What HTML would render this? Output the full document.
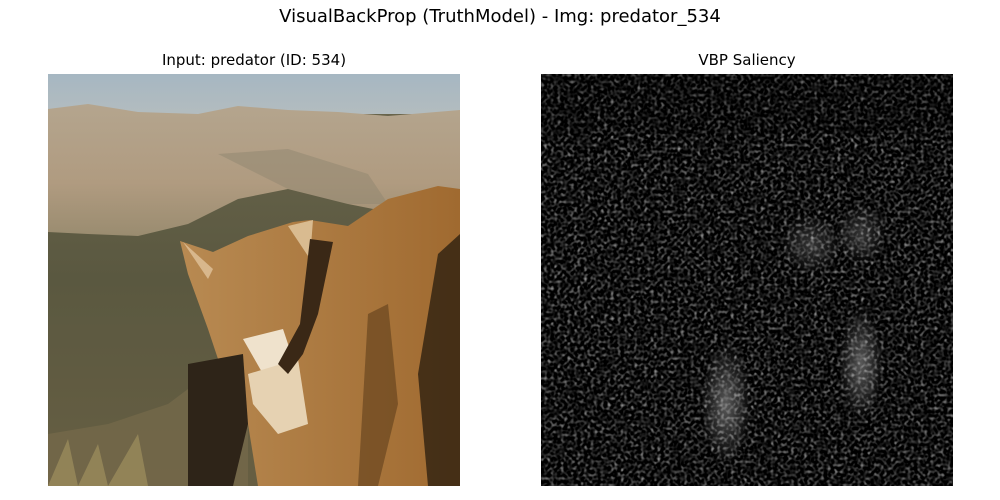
<!DOCTYPE html>
<html><head><meta charset="utf-8"><style>
body{margin:0;background:#fff;}
#fig{position:relative;width:1000px;height:500px;font-family:"DejaVu Sans","Liberation Sans",sans-serif;}
.t{position:absolute;text-align:center;color:#000;}
</style></head><body>
<div id="fig">
<div class="t" style="left:0;width:1000px;top:6px;font-size:18px;">VisualBackProp (TruthModel) - Img: predator_534</div>
<div class="t" style="left:48px;width:412px;top:51px;font-size:15px;">Input: predator (ID: 534)</div>
<div class="t" style="left:541px;width:412px;top:51px;font-size:15px;">VBP Saliency</div>
<svg width="1000" height="500" style="position:absolute;left:0;top:0">
<defs>
<linearGradient id="sky" x1="0" y1="0" x2="0" y2="1"><stop offset="0" stop-color="#a6b7c2"/><stop offset="1" stop-color="#b3bcbf"/></linearGradient>
<linearGradient id="mtn" x1="0" y1="0" x2="0" y2="1"><stop offset="0" stop-color="#b4a58e"/><stop offset="0.6" stop-color="#b09b80"/><stop offset="1" stop-color="#9a8c70"/></linearGradient>
<linearGradient id="field" x1="0" y1="0" x2="0" y2="1"><stop offset="0" stop-color="#6c674e"/><stop offset="0.5" stop-color="#5a5840"/><stop offset="1" stop-color="#6e6244"/></linearGradient>
<linearGradient id="fur" x1="0" y1="0" x2="1" y2="0"><stop offset="0" stop-color="#b88a52"/><stop offset="1" stop-color="#a06a30"/></linearGradient>
<filter id="noise" x="0" y="0" width="100%" height="100%" color-interpolation-filters="sRGB">
<feTurbulence type="fractalNoise" baseFrequency="0.3" numOctaves="1" seed="7"/>
<feColorMatrix type="matrix" values="0.33 0.33 0.33 0 0 0.33 0.33 0.33 0 0 0.33 0.33 0.33 0 0 0 0 0 0 1"/>
<feComponentTransfer><feFuncR type="linear" slope="2.2" intercept="-1.02"/><feFuncG type="linear" slope="2.2" intercept="-1.02"/><feFuncB type="linear" slope="2.2" intercept="-1.02"/></feComponentTransfer>
</filter>
<radialGradient id="glow"><stop offset="0" stop-color="#fff" stop-opacity="0.35"/><stop offset="1" stop-color="#fff" stop-opacity="0"/></radialGradient>
<clipPath id="c1"><rect width="412" height="412"/></clipPath>
</defs>
<g transform="translate(48,74)" clip-path="url(#c1)">
<rect width="412" height="412" fill="url(#field)"/>
<rect width="412" height="40" fill="url(#sky)"/>
<path d="M0,35 L40,30 L90,38 L150,40 L190,32 L240,36 L290,38 L340,42 L412,36 L412,130 L350,140 L300,130 L240,115 L190,125 L140,150 L90,162 L40,160 L0,158 Z" fill="url(#mtn)"/>
<path d="M170,80 L240,75 L320,100 L340,130 L300,130 L240,115 Z" fill="#8f8670" opacity="0.5"/>
<path d="M0,220 L412,220 L412,412 L0,412 Z" fill="#5c5a42" opacity="0.4"/>
<path d="M0,360 L60,350 L120,330 L160,300 L200,320 L200,412 L0,412 Z" fill="#7a6d4c" opacity="0.6"/>
<path d="M132,167 L165,178 L200,162 L245,148 L262,146 L300,152 L340,125 L390,112 L412,115 L412,412 L210,412 L200,350 L175,300 L160,255 L140,200 Z" fill="url(#fur)"/>
<path d="M135,168 L165,195 L160,205 Z" fill="#d8b78c"/>
<path d="M240,152 L265,146 L262,185 Z" fill="#d9bb90"/>
<path d="M195,265 L235,255 L245,285 L215,300 Z" fill="#efe2cc"/>
<path d="M200,300 L250,285 L260,350 L230,360 L205,330 Z" fill="#e6d2b2"/>
<path d="M262,165 L285,168 L270,240 L255,280 L240,300 L230,290 L252,250 Z" fill="#3a2816"/>
<path d="M140,290 L195,280 L200,350 L185,412 L140,412 Z" fill="#2e2418"/>
<path d="M320,240 L340,230 L350,330 L330,412 L310,412 Z" fill="#6a4620" opacity="0.7"/>
<path d="M390,180 L412,160 L412,412 L380,412 L370,300 Z" fill="#2e2010" opacity="0.8"/>
<path d="M0,412 L20,365 L30,412 L50,370 L60,412 L90,360 L100,412 Z" fill="#a0905e" opacity="0.7"/>
</g>
<g transform="translate(541,74)">
<rect width="412" height="412" fill="#000"/>
<rect width="412" height="412" filter="url(#noise)"/>
<ellipse cx="185" cy="330" rx="25" ry="60" fill="url(#glow)"/>
<ellipse cx="320" cy="290" rx="22" ry="55" fill="url(#glow)"/>
<ellipse cx="270" cy="170" rx="30" ry="30" fill="url(#glow)" opacity="0.6"/>
<ellipse cx="320" cy="160" rx="25" ry="30" fill="url(#glow)" opacity="0.6"/>
<rect width="412" height="60" fill="#000" opacity="0.2"/>
</g>
</svg>
</div>
</body></html>
